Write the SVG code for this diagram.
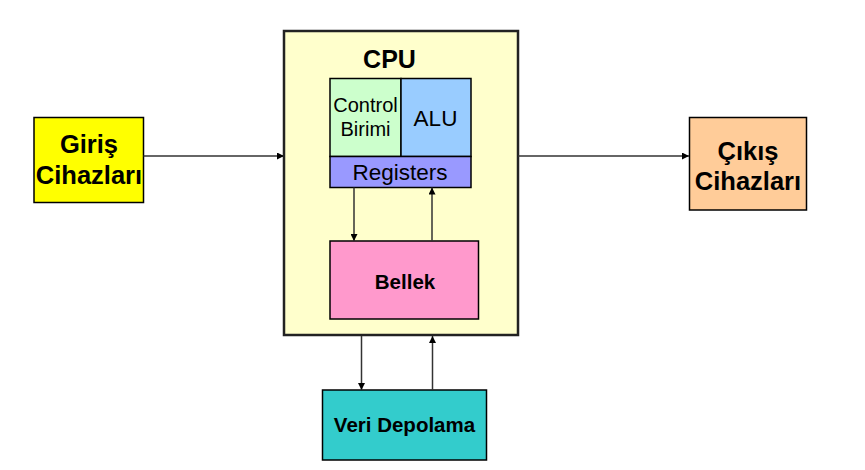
<svg xmlns="http://www.w3.org/2000/svg" width="865" height="470" viewBox="0 0 865 470">
<style>
.box{stroke:#000;stroke-width:1.5}
.t{font-family:"Liberation Sans",Arial,sans-serif;fill:#000;text-anchor:middle}
.b{font-weight:bold}
.c{stroke:#333;stroke-width:1.5;fill:none}
</style>
<defs>
<marker id="ah" viewBox="0 0 10 10" refX="10" refY="5" markerWidth="7" markerHeight="7" markerUnits="userSpaceOnUse" orient="auto">
<path d="M0,0 L10,5 L0,10 z" fill="#000"/>
</marker>
</defs>
<rect width="865" height="470" fill="#fff"/>
<g id="cpu">
<rect x="284" y="31" width="234" height="304" fill="#FFFFCC" stroke="#222" stroke-width="2.5"/>
<text class="t b" x="389.5" y="68" font-size="25">CPU</text>
</g>
<g id="control">
<rect class="box" x="330" y="78.5" width="71" height="78" fill="#CCFFCC"/>
<text class="t" x="365.5" y="112" font-size="20">Control</text>
<text class="t" x="365.5" y="136" font-size="20">Birimi</text>
</g>
<g id="alu">
<rect class="box" x="401" y="78.5" width="70" height="78" fill="#99CCFF"/>
<text class="t" x="435.5" y="126" font-size="22.5">ALU</text>
</g>
<g id="registers">
<rect class="box" x="330" y="156.5" width="141" height="31" fill="#9999FF"/>
<text class="t" x="400" y="179.5" font-size="22.5">Registers</text>
</g>
<g id="bellek">
<rect class="box" x="330" y="241" width="148.5" height="78" fill="#FF99CC"/>
<text class="t b" x="405" y="289" font-size="20.5">Bellek</text>
</g>
<g id="giris">
<rect class="box" x="34" y="117.5" width="109.5" height="85" fill="#FFFF00"/>
<text class="t b" x="89" y="152.5" font-size="25.5">Giriş</text>
<text class="t b" x="89" y="184" font-size="25.5">Cihazları</text>
</g>
<g id="cikis">
<rect class="box" x="689.5" y="117.5" width="117" height="92.5" fill="#FFCC99"/>
<text class="t b" x="748" y="160" font-size="25.5">Çıkış</text>
<text class="t b" x="748" y="189.5" font-size="25.5">Cihazları</text>
</g>
<g id="veri">
<rect class="box" x="322.5" y="390" width="164" height="70" fill="#33CCCC"/>
<text class="t b" x="404.5" y="431.5" font-size="20.5">Veri Depolama</text>
</g>
<g id="connectors">
<line class="c" x1="143.5" y1="156" x2="284" y2="156" marker-end="url(#ah)"/>
<line class="c" x1="518" y1="156" x2="689" y2="156" marker-end="url(#ah)"/>
<line class="c" x1="354" y1="187.5" x2="354" y2="241" marker-end="url(#ah)"/>
<line class="c" x1="432" y1="241" x2="432" y2="187.5" marker-end="url(#ah)"/>
<line class="c" x1="361.5" y1="336" x2="361.5" y2="390" marker-end="url(#ah)"/>
<line class="c" x1="432.5" y1="390" x2="432.5" y2="336" marker-end="url(#ah)"/>
</g>
</svg>
